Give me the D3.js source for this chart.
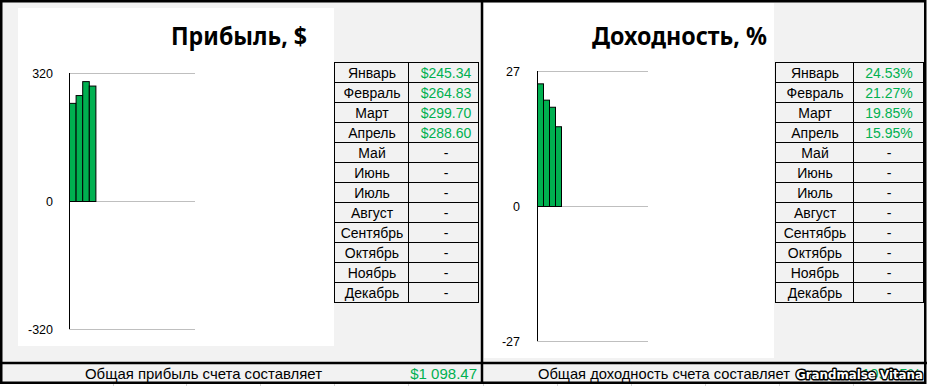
<!DOCTYPE html>
<html>
<head>
<meta charset="utf-8">
<script src="https://cdn.jsdelivr.net/npm/d3@7"></script>
<style>
  body { margin: 0; background: #ffffff; }
  svg { display: block; }
</style>
</head>
<body>
<div id="chart"></div>
<script>
var months = ['Январь', 'Февраль', 'Март', 'Апрель', 'Май', 'Июнь', 'Июль',
  'Август', 'Сентябрь', 'Октябрь', 'Ноябрь', 'Декабрь'];
var profit = [245.34, 264.83, 299.70, 288.60, null, null, null, null, null, null, null, null];
var yieldPct = [24.53, 21.27, 19.85, 15.95, null, null, null, null, null, null, null, null];
var profitTicks = [-320, 0, 320];
var yieldTicks = [-27, 0, 27];
var totalProfit = '$1 098.47';
var totalYield = '109.95%';

var width = 928, height = 386,
  green = '#00b050',
  bg = '#f2f2f2',
  grid_color = '#bfbfbf';

var svg = d3.select('#chart').append('svg')
  .attr('width', width)
  .attr('height', height)
  .style('font-family', '"Liberation Sans", Arial, sans-serif');

// faint sheet gridlines below the frame
svg.append('g')
  .selectAll('line')
  .data([113, 186, 260, 334, 408, 483, 557, 631, 705, 779, 853])
  .join('line')
  .attr('x1', d => d + 0.5).attr('x2', d => d + 0.5)
  .attr('y1', 384).attr('y2', 386)
  .attr('stroke', '#d4d4d4');

// sheet background inside the frame
svg.append('rect')
  .attr('x', 1).attr('y', 1)
  .attr('width', 924).attr('height', 382)
  .attr('fill', bg);

function panel(opt) {
  var g = svg.append('g');

  // white chart area
  g.append('rect')
    .attr('x', opt.area[0]).attr('y', opt.area[1])
    .attr('width', opt.area[2] - opt.area[0])
    .attr('height', opt.area[3] - opt.area[1])
    .attr('fill', '#ffffff');

  g.append('text')
    .attr('x', opt.title[0])
    .attr('y', 45)
    .attr('textLength', opt.title[1])
    .attr('lengthAdjust', 'spacingAndGlyphs')
    .style('font', 'bold 25px "Noto Sans", sans-serif')
    .attr('fill', '#000')
    .text(opt.titleText);

  var y = d3.scaleLinear()
    .domain([opt.ticks[0], opt.ticks[2]])
    .range([opt.plot[3], opt.plot[1]]);

  var x = d3.scaleBand()
    .domain(months)
    .range([opt.plot[0], opt.plot[0] + opt.barW * months.length])
    .padding(0);

  // gridlines
  g.append('g')
    .selectAll('line')
    .data(opt.ticks)
    .join('line')
    .attr('x1', opt.plot[0]).attr('x2', opt.plot[2])
    .attr('y1', d => Math.round(y(d)) + 0.5)
    .attr('y2', d => Math.round(y(d)) + 0.5)
    .attr('stroke', grid_color);

  // tick labels
  g.append('g')
    .selectAll('text')
    .data(opt.ticks)
    .join('text')
    .attr('x', opt.labelX)
    .attr('y', d => y(d) + 1)
    .attr('dy', '0.35em')
    .attr('text-anchor', 'end')
    .style('font-size', '12.5px')
    .attr('fill', '#000')
    .text(d => d);

  // bars
  g.append('g')
    .selectAll('rect')
    .data(months.map((m, i) => ({ m: m, v: opt.values[i] })).filter(d => d.v != null))
    .join('rect')
    .attr('x', d => x(d.m) + 0.5)
    .attr('y', d => y(Math.max(0, d.v)) + 0.5)
    .attr('width', x.bandwidth())
    .attr('height', d => Math.abs(y(d.v) - y(0)))
    .attr('fill', green)
    .attr('stroke', '#000')
    .attr('stroke-width', 1);

  // axis line
  g.append('line')
    .attr('x1', opt.plot[0] + 0.5).attr('x2', opt.plot[0] + 0.5)
    .attr('y1', y(opt.ticks[2])).attr('y2', y(opt.ticks[0]))
    .attr('stroke', '#000');

  // month table
  var t = opt.table, rowH = 20, top = 62;
  var rows = g.append('g')
    .selectAll('g')
    .data(months)
    .join('g')
    .attr('transform', (d, i) => 'translate(0,' + (top + i * rowH) + ')');

  rows.append('rect')
    .attr('x', t[0] + 0.5).attr('y', 0.5)
    .attr('width', t[2] - t[0]).attr('height', rowH)
    .attr('fill', bg)
    .attr('stroke', '#000');

  rows.append('line')
    .attr('x1', t[1] + 0.5).attr('x2', t[1] + 0.5)
    .attr('y1', 0).attr('y2', rowH)
    .attr('stroke', '#000');

  rows.append('text')
    .attr('x', (t[0] + t[1]) / 2 + 1)
    .attr('y', 15.5)
    .attr('text-anchor', 'middle')
    .style('font-size', '14px')
    .attr('fill', '#000')
    .text(d => d);

  rows.append('text')
    .attr('x', (t[1] + t[2]) / 2 + opt.valShift)
    .attr('y', 15.5)
    .attr('text-anchor', 'middle')
    .style('font-size', '14px')
    .attr('fill', (d, i) => opt.values[i] == null ? '#000' : green)
    .text((d, i) => opt.values[i] == null ? '-' : opt.fmt(opt.values[i]));
}

panel({
  area: [18, 8, 334, 346],
  title: [171, 136],
  titleText: 'Прибыль, $',
  plot: [69, 73, 195, 329],
  barW: 6.6,
  labelX: 53,
  ticks: profitTicks,
  values: profit,
  table: [334, 408, 478],
  valShift: 3,
  fmt: d3.format('$.2f')
});

panel({
  area: [484, 3, 774, 358],
  title: [592, 175],
  titleText: 'Доходность, %',
  plot: [537, 71, 648, 341],
  barW: 6,
  labelX: 520,
  ticks: yieldTicks,
  values: yieldPct,
  table: [775, 853, 923],
  valShift: 1,
  fmt: d => d.toFixed(2) + '%'
});

// totals row
svg.append('rect')
  .attr('x', 1).attr('y', 363)
  .attr('width', 924).attr('height', 19)
  .attr('fill', bg);

svg.append('text')
  .attr('x', 85).attr('y', 379)
  .attr('textLength', 237)
  .attr('lengthAdjust', 'spacingAndGlyphs')
  .style('font-size', '15px')
  .attr('fill', '#000')
  .text('Общая прибыль счета составляет');

svg.append('text')
  .attr('x', 477).attr('y', 379)
  .attr('text-anchor', 'end')
  .style('font-size', '15px')
  .attr('fill', green)
  .text(totalProfit);

svg.append('text')
  .attr('x', 538).attr('y', 379)
  .attr('textLength', 252)
  .attr('lengthAdjust', 'spacingAndGlyphs')
  .style('font-size', '15px')
  .attr('fill', '#000')
  .text('Общая доходность счета составляет');

svg.append('text')
  .attr('x', 921).attr('y', 379)
  .attr('text-anchor', 'end')
  .style('font-size', '15px')
  .attr('fill', green)
  .text(totalYield);

// frame and dividers
var frame = svg.append('g').attr('stroke', '#000').attr('stroke-width', 2.5).attr('fill', 'none');
frame.append('rect')
  .attr('x', 1.25).attr('y', 1.25)
  .attr('width', 924).attr('height', 381.5);
frame.append('line')
  .attr('x1', 482).attr('x2', 482)
  .attr('y1', 0).attr('y2', 384);
frame.append('line')
  .attr('x1', 0).attr('x2', 927)
  .attr('y1', 363).attr('y2', 363);

// watermark
svg.append('text')
  .attr('x', 796).attr('y', 379)
  .attr('textLength', 127)
  .attr('lengthAdjust', 'spacingAndGlyphs')
  .style('font', 'bold 13px "DejaVu Sans", sans-serif')
  .attr('fill', '#fff')
  .attr('stroke', '#000')
  .attr('stroke-width', 3)
  .attr('stroke-linejoin', 'round')
  .attr('paint-order', 'stroke')
  .text('Grandmalse Vitana');
</script>
</body>
</html>
